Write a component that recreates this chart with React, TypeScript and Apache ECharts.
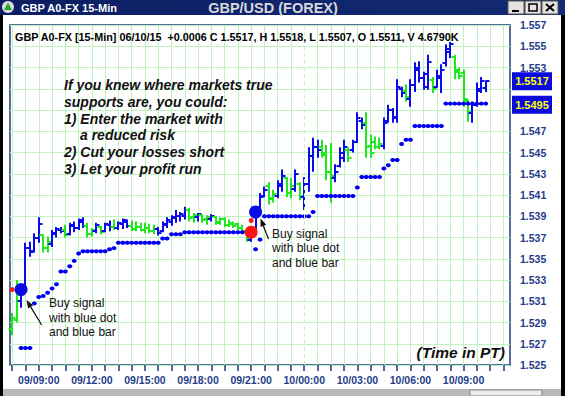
import React, { useEffect, useRef } from "react";
import * as echarts from "echarts";

const FONT = '"Liberation Sans", Arial, Helvetica, sans-serif';
const BLUE = "#0a0aee";
const GREEN = "#1fe81f";
const GRID_GREEN = "#bff2bf";
const NAVY = "#1a3c7c";
const LABEL_BLUE = "#1f3d8a";

// 15-minute slots on the time axis (index 6 = 09/09:00)
const SLOT_COUNT = 113;
const START_DAY = 9;
const START_MINUTE = 7 * 60 + 30;
const pad = (n: number) => String(n).padStart(2, "0");
const categories: string[] = [];
for (let k = 0; k < SLOT_COUNT; k++) {
  const t = START_MINUTE + k * 15;
  const day = START_DAY + Math.floor(t / 1440);
  const m = t % 1440;
  categories.push(`${pad(day)}/${pad(Math.floor(m / 60))}:${pad(m % 60)}`);
}
const tickLabels = ["09/09:00", "09/12:00", "09/15:00", "09/18:00", "09/21:00", "10/00:00", "10/03:00", "10/06:00", "10/09:00"];
// price labels hidden behind the price tags
const hiddenPriceLabels = ["1.551", "1.549"];

const opens = [
  1.5284, 1.5292, 1.5310, 1.5322, 1.5360, 1.5357, 1.5370, 1.5372, 1.5360, 1.5364,
  1.5373, 1.5377, 1.5377, 1.5373, 1.5381, 1.5379, 1.5385, 1.5381, 1.5373, 1.5376,
  1.5380, 1.5376, 1.5382, 1.5380, 1.5379, 1.5383, 1.5385, 1.5381, 1.5378, 1.5380,
  1.5377, 1.5379, 1.5376, 1.5378, 1.5376, 1.5382, 1.5385, 1.5388, 1.5390, 1.5390,
  1.5396, 1.5389, 1.5389, 1.5391, 1.5387, 1.5387, 1.5389, 1.5385, 1.5387, 1.5382,
  1.5383, 1.5383, 1.5379, 1.5376, 1.5368, 1.5374, 1.5392, 1.5409, 1.5418, 1.5407,
  1.5409, 1.5418, 1.5426, 1.5412, 1.5416, 1.5420, 1.5408, 1.5420, 1.5447, 1.5455,
  1.5455, 1.5450, 1.5432, 1.5426, 1.5437, 1.5445, 1.5452, 1.5452, 1.5460, 1.5480,
  1.5478, 1.5456, 1.5460, 1.5455, 1.5456, 1.5480, 1.5490, 1.5482, 1.5510, 1.5508,
  1.5500, 1.5514, 1.5528, 1.5520, 1.5512, 1.5518, 1.5512, 1.5520, 1.5534, 1.5545,
  1.5540, 1.5526, 1.5525, 1.5498, 1.5487, 1.5495, 1.5508, 1.5511,
];
const highs = [
  1.5299, 1.5330, 1.5323, 1.5365, 1.5366, 1.5374, 1.5389, 1.5373, 1.5371, 1.5377,
  1.5380, 1.5380, 1.5382, 1.5384, 1.5385, 1.5388, 1.5389, 1.5384, 1.5379, 1.5384,
  1.5381, 1.5384, 1.5386, 1.5387, 1.5385, 1.5388, 1.5387, 1.5386, 1.5385, 1.5384,
  1.5384, 1.5383, 1.5382, 1.5380, 1.5385, 1.5389, 1.5391, 1.5396, 1.5394, 1.5399,
  1.5398, 1.5393, 1.5393, 1.5392, 1.5391, 1.5392, 1.5390, 1.5389, 1.5389, 1.5387,
  1.5385, 1.5384, 1.5382, 1.5377, 1.5378, 1.5395, 1.5412, 1.5418, 1.5422, 1.5415,
  1.5424, 1.5434, 1.5427, 1.5426, 1.5434, 1.5422, 1.5427, 1.5455, 1.5464, 1.5462,
  1.5462, 1.5457, 1.5459, 1.5439, 1.5455, 1.5462, 1.5455, 1.5462, 1.5488, 1.5483,
  1.5488, 1.5467, 1.5465, 1.5464, 1.5483, 1.5495, 1.5492, 1.5519, 1.5512, 1.5514,
  1.5519, 1.5535, 1.5536, 1.5526, 1.5542, 1.5521, 1.5528, 1.5533, 1.5552, 1.5554,
  1.5542, 1.5530, 1.5528, 1.5500, 1.5498, 1.5516, 1.5521, 1.5518,
];
const lows = [
  1.5278, 1.5290, 1.5304, 1.5321, 1.5352, 1.5356, 1.5365, 1.5356, 1.5356, 1.5361,
  1.5370, 1.5374, 1.5370, 1.5372, 1.5375, 1.5377, 1.5379, 1.5370, 1.5371, 1.5374,
  1.5373, 1.5375, 1.5376, 1.5377, 1.5377, 1.5378, 1.5379, 1.5376, 1.5376, 1.5376,
  1.5374, 1.5374, 1.5373, 1.5372, 1.5375, 1.5379, 1.5381, 1.5384, 1.5385, 1.5387,
  1.5385, 1.5384, 1.5385, 1.5384, 1.5382, 1.5385, 1.5382, 1.5382, 1.5380, 1.5380,
  1.5379, 1.5377, 1.5374, 1.5366, 1.5366, 1.5372, 1.5391, 1.5408, 1.5401, 1.5403,
  1.5407, 1.5413, 1.5408, 1.5407, 1.5413, 1.5405, 1.5396, 1.5413, 1.5432, 1.5445,
  1.5445, 1.5424, 1.5403, 1.5422, 1.5436, 1.5441, 1.5441, 1.5450, 1.5459, 1.5472,
  1.5445, 1.5445, 1.5453, 1.5453, 1.5453, 1.5478, 1.5478, 1.5478, 1.5502, 1.5498,
  1.5493, 1.5507, 1.5516, 1.5509, 1.5509, 1.5506, 1.5511, 1.5506, 1.5531, 1.5539,
  1.5519, 1.5519, 1.5493, 1.5479, 1.5478, 1.5493, 1.5506, 1.5507,
];
const closes = [
  1.5294, 1.5318, 1.5320, 1.5360, 1.5356, 1.5370, 1.5383, 1.5360, 1.5366, 1.5374,
  1.5378, 1.5376, 1.5372, 1.5382, 1.5379, 1.5386, 1.5381, 1.5373, 1.5377, 1.5382,
  1.5375, 1.5383, 1.5380, 1.5379, 1.5384, 1.5386, 1.5381, 1.5378, 1.5380, 1.5377,
  1.5379, 1.5376, 1.5378, 1.5374, 1.5383, 1.5386, 1.5389, 1.5390, 1.5392, 1.5396,
  1.5388, 1.5391, 1.5392, 1.5386, 1.5389, 1.5390, 1.5384, 1.5387, 1.5382, 1.5384,
  1.5381, 1.5379, 1.5376, 1.5370, 1.5375, 1.5392, 1.5408, 1.5415, 1.5406, 1.5411,
  1.5420, 1.5428, 1.5412, 1.5418, 1.5430, 1.5409, 1.5420, 1.5447, 1.5455, 1.5452,
  1.5448, 1.5432, 1.5428, 1.5432, 1.5450, 1.5455, 1.5445, 1.5460, 1.5482, 1.5476,
  1.5455, 1.5450, 1.5455, 1.5458, 1.5478, 1.5490, 1.5483, 1.5512, 1.5506, 1.5502,
  1.5514, 1.5530, 1.5520, 1.5524, 1.5535, 1.5510, 1.5522, 1.5528, 1.5547, 1.5552,
  1.5528, 1.5522, 1.5500, 1.5488, 1.5495, 1.5510, 1.5517, 1.5517,
];
// b = blue bar, g = green bar
const barColors = (
  "ggbbbbbggb" + "bbgbbbbggb" + "gbbgbbbggg" + "gggbbbbbbb" + "ggbggbgggg" +
  "ggggbbbbgg" + "bbggbgbbbb" + "gggbbbgbbb" + "ggggbbbbbg" + "bbbbbgbbbb" +
  "ggggbbbb"
).split("");

// support dots [bar index, price]
const supportDots: [number, number][] = [
  [2, 1.5266], [3, 1.5266], [4, 1.5266], [5, 1.5308], [6, 1.5314], [7, 1.5315], [8, 1.5318],
  [9, 1.5322], [10, 1.5326], [11, 1.5338], [12, 1.5338], [13, 1.5343], [14, 1.5348], [15, 1.5355],
  [16, 1.5357], [17, 1.5357], [18, 1.5357], [19, 1.5357], [20, 1.5357], [21, 1.5357], [22, 1.5359],
  [23, 1.5360], [24, 1.5365], [25, 1.5365], [26, 1.5365], [27, 1.5365], [28, 1.5365], [29, 1.5365],
  [30, 1.5365], [31, 1.5365], [32, 1.5365], [33, 1.5365], [34, 1.5369], [35, 1.5369], [36, 1.5373],
  [37, 1.5373], [38, 1.5373], [39, 1.5375], [40, 1.5375], [41, 1.5375], [42, 1.5375], [43, 1.5375],
  [44, 1.5375], [45, 1.5375], [46, 1.5375], [47, 1.5375], [48, 1.5375], [49, 1.5375], [50, 1.5375],
  [51, 1.5375], [52, 1.5375], [53, 1.5375], [55, 1.5359], [56, 1.5368],
  [57, 1.5390], [58, 1.5390], [59, 1.5390], [60, 1.5390], [61, 1.5390], [62, 1.5390], [63, 1.5390],
  [64, 1.5390], [65, 1.5390], [66, 1.5390], [67, 1.5390], [68, 1.5394], [69, 1.5409], [70, 1.5409],
  [71, 1.5409], [72, 1.5409], [73, 1.5409], [74, 1.5409], [75, 1.5409], [76, 1.5409], [77, 1.5409],
  [78, 1.5417], [79, 1.5427], [80, 1.5427], [81, 1.5427], [82, 1.5427], [83, 1.5427], [84, 1.5435],
  [85, 1.5438], [86, 1.5443], [87, 1.5443], [88, 1.5458], [89, 1.5462], [90, 1.5462], [91, 1.5475],
  [92, 1.5475], [93, 1.5475], [94, 1.5475], [95, 1.5475], [96, 1.5475], [97, 1.5475], [98, 1.5496],
  [99, 1.5496], [100, 1.5496], [101, 1.5496], [102, 1.5496], [103, 1.5496], [104, 1.5496],
  [105, 1.5496], [106, 1.5496], [107, 1.5496],
];
const buySignals: [number, number][] = [[2, 1.5321], [55, 1.5394]];
const sellSignals: [number, number][] = [[54, 1.5375]];
const stopDots: [number, number][] = [[0, 1.5321], [54, 1.5386]];

const lastPrice = 1.5517;
const supportPrice = 1.5495;

const headerText = "GBP A0-FX [15-Min] 06/10/15  +0.0006 C 1.5517, H 1.5518, L 1.5507, O 1.5511, V 4.6790K";
const noteLines = [
  "If you knew where markets true",
  "supports are, you could:",
  "1) Enter the market with",
  "a reduced risk",
  "2) Cut your losses short",
  "3) Let your profit run",
];

function arrow(x1: number, y1: number, x2: number, y2: number) {
  const dx = x2 - x1, dy = y2 - y1;
  const len = Math.sqrt(dx * dx + dy * dy);
  const ux = dx / len, uy = dy / len;
  const hl = 8, hw = 3;
  const bx = x2 - ux * hl, by = y2 - uy * hl;
  return [
    { type: "line", z: 100, shape: { x1, y1, x2: bx, y2: by }, style: { stroke: "#111", lineWidth: 1.2 } },
    {
      type: "polygon", z: 100,
      shape: { points: [[x2, y2], [bx - uy * hw, by + ux * hw], [bx + uy * hw, by - ux * hw]] },
      style: { fill: "#111" },
    },
  ];
}

export default function App() {
  const ref = useRef<HTMLDivElement>(null);
  useEffect(() => {
    if (!ref.current) return;
    const chart = echarts.init(ref.current, undefined, { renderer: "svg" });
    const barData = opens.map((o, i) => [i, o, highs[i], lows[i], closes[i]]);
    chart.setOption({
      animation: false,
      backgroundColor: "#ffffff",
      textStyle: { fontFamily: FONT },
      grid: { left: 10, right: 55, top: 25, bottom: 31, show: true, borderColor: NAVY, borderWidth: 1.5, backgroundColor: "#ffffff" },
      xAxis: {
        type: "category",
        data: categories,
        boundaryGap: true,
        axisLine: { show: false },
        axisTick: { show: true, alignWithLabel: true, interval: (i: number) => i % 3 === 0, length: 6, lineStyle: { color: NAVY, width: 1.5 } },
        axisLabel: {
          interval: (_i: number, v: string) => tickLabels.includes(v),
          color: LABEL_BLUE, fontWeight: "bold", fontSize: 10.5, fontFamily: FONT, margin: 9,
        },
        splitLine: { show: true, alignWithLabel: true, interval: (i: number) => i % 3 === 0 && i !== 66, lineStyle: { color: GRID_GREEN, width: 1 } },
      },
      yAxis: {
        type: "value",
        position: "right",
        min: 1.525,
        max: 1.557,
        interval: 0.002,
        axisLine: { show: false },
        axisTick: { show: false },
        axisLabel: {
          formatter: (v: number) => (hiddenPriceLabels.includes(v.toFixed(3)) ? "" : v.toFixed(3)),
          color: LABEL_BLUE, fontWeight: "bold", fontSize: 10.5, fontFamily: FONT, margin: 10,
        },
        splitLine: { show: true, lineStyle: { color: GRID_GREEN, width: 1 } },
      },
      series: [
        {
          type: "custom",
          z: 2,
          encode: { x: 0, y: [1, 2, 3, 4] },
          data: barData,
          renderItem: (params: any, api: any) => {
            const idx = api.value(0);
            const p = api.coord([idx, api.value(1)]);
            const cx = Math.round(p[0]);
            const yO = Math.round(p[1]);
            const yH = api.coord([idx, api.value(2)])[1];
            const yL = api.coord([idx, api.value(3)])[1];
            const yC = Math.round(api.coord([idx, api.value(4)])[1]);
            const color = barColors[params.dataIndex] === "g" ? GREEN : BLUE;
            const st = { stroke: color, lineWidth: 2 };
            return {
              type: "group",
              children: [
                { type: "line", shape: { x1: cx, y1: yH, x2: cx, y2: yL }, style: st },
                { type: "line", shape: { x1: cx - 3.5, y1: yO, x2: cx, y2: yO }, style: st },
                { type: "line", shape: { x1: cx, y1: yC, x2: cx + 3.5, y2: yC }, style: st },
              ],
            };
          },
        },
        {
          type: "scatter",
          z: 3,
          symbol: "circle",
          symbolSize: [5, 4],
          itemStyle: { color: "#0000f0", opacity: 1 },
          data: supportDots,
          markLine: {
            silent: true,
            symbol: "none",
            label: { show: false },
            lineStyle: { type: [4, 3], color: "#c8f2c8", width: 1 },
            data: [{ xAxis: categories[66] }],
          },
        },
        { type: "scatter", z: 4, symbolSize: 5, itemStyle: { color: "#ff1a1a", opacity: 1 }, data: stopDots },
        { type: "scatter", z: 5, symbolSize: 13, itemStyle: { color: "#0b0be6", opacity: 1 }, data: buySignals },
        { type: "scatter", z: 5, symbolSize: 13, itemStyle: { color: "#ff1414", opacity: 1 }, data: sellSignals },
      ],
    });

    const yLast = chart.convertToPixel({ yAxisIndex: 0 }, lastPrice) as number;
    const ySup = chart.convertToPixel({ yAxisIndex: 0 }, supportPrice) as number;

    const priceBox = (y: number, value: number) => [
      { type: "rect", z: 100, shape: { x: 512, y: y - 9, width: 40, height: 18 }, style: { fill: "#0a0ae0" } },
      {
        type: "text", z: 101, x: 532, y: y,
        style: { text: value.toFixed(4), fill: "#ffff00", fontSize: 11, fontWeight: "bold", fontFamily: FONT, align: "center", verticalAlign: "middle" },
      },
    ];

    const graphic: any[] = [
      // title bar
      {
        type: "rect", z: 100, shape: { x: 0, y: 0, width: 565, height: 15 },
        style: { fill: new echarts.graphic.LinearGradient(0, 0, 1, 0, [{ offset: 0, color: "#0b1e62" }, { offset: 1, color: "#132a74" }]) },
      },
      { type: "circle", z: 101, shape: { cx: 8, cy: 7, r: 6 }, style: { fill: "#dcdcdc" } },
      { type: "polygon", z: 102, shape: { points: [[8, 2.5], [12, 10], [4, 10]] }, style: { fill: "#21a62a" } },
      {
        type: "text", z: 101, x: 21, y: 7.5,
        style: { text: "GBP A0-FX 15-Min", fill: "#ffffff", fontSize: 11, fontWeight: "bold", fontFamily: FONT, verticalAlign: "middle" },
      },
      {
        type: "text", z: 101, x: 273, y: 7.5,
        style: { text: "GBP/USD (FOREX)", fill: "#d8d8d8", fontSize: 14.5, fontWeight: "bold", fontFamily: FONT, align: "center", verticalAlign: "middle" },
      },
      // window buttons
      { type: "rect", z: 101, shape: { x: 508, y: 1, width: 16, height: 13 }, style: { fill: "#e4e2dc", stroke: "#555", lineWidth: 1 } },
      { type: "rect", z: 101, shape: { x: 525, y: 1, width: 16, height: 13 }, style: { fill: "#e4e2dc", stroke: "#555", lineWidth: 1 } },
      { type: "rect", z: 101, shape: { x: 542, y: 1, width: 16, height: 13 }, style: { fill: "#e4e2dc", stroke: "#555", lineWidth: 1 } },
      { type: "line", z: 102, shape: { x1: 512, y1: 11, x2: 519, y2: 11 }, style: { stroke: "#000", lineWidth: 2 } },
      { type: "rect", z: 102, shape: { x: 529, y: 4, width: 8, height: 7 }, style: { fill: "none", stroke: "#000", lineWidth: 1.5 } },
      { type: "line", z: 102, shape: { x1: 546, y1: 4, x2: 554, y2: 11 }, style: { stroke: "#000", lineWidth: 2 } },
      { type: "line", z: 102, shape: { x1: 554, y1: 4, x2: 546, y2: 11 }, style: { stroke: "#000", lineWidth: 2 } },
      // window frame
      { type: "rect", z: 100, shape: { x: 0, y: 15, width: 3, height: 381 }, style: { fill: "#000" } },
      { type: "rect", z: 100, shape: { x: 561, y: 15, width: 4, height: 381 }, style: { fill: "#000" } },
      { type: "rect", z: 100, shape: { x: 3, y: 389, width: 558, height: 7 }, style: { fill: "#b9b9b9" } },
      { type: "rect", z: 101, shape: { x: 470, y: 390, width: 72, height: 6 }, style: { fill: "#ececec", stroke: "#888", lineWidth: 1 } },
      // header
      {
        type: "text", z: 100, x: 15, y: 37,
        style: { text: headerText, fill: "#000", fontSize: 10.8, fontWeight: "bold", fontFamily: FONT, verticalAlign: "middle" },
      },
      // note text
      ...noteLines.map((t, k) => ({
        type: "text", z: 100, x: k === 3 ? 80 : 64, y: 85 + k * 16.8,
        style: { text: t, fill: "#111", fontSize: 14, fontWeight: "bold", fontStyle: "italic", fontFamily: FONT, verticalAlign: "middle" },
      })),
      {
        type: "text", z: 100, x: 49, y: 296,
        style: { text: "Buy signal\nwith blue dot\nand blue bar", fill: "#111", fontSize: 12, fontFamily: FONT, lineHeight: 14.4, verticalAlign: "top" },
      },
      {
        type: "text", z: 100, x: 272, y: 227,
        style: { text: "Buy signal\nwith blue dot\nand blue bar", fill: "#111", fontSize: 12, fontFamily: FONT, lineHeight: 14.2, verticalAlign: "top" },
      },
      ...arrow(41.7, 325, 26.5, 300),
      ...arrow(268.5, 239, 260.5, 218.5),
      {
        type: "text", z: 100, x: 505, y: 352,
        style: { text: "(Time in PT)", fill: "#111", fontSize: 15.5, fontWeight: "bold", fontStyle: "italic", fontFamily: FONT, align: "right", verticalAlign: "middle" },
      },
      ...priceBox(yLast, lastPrice),
      ...priceBox(ySup, supportPrice),
    ];
    chart.setOption({ graphic });

    return () => chart.dispose();
  }, []);
  return <div ref={ref} style={{ position: "fixed", left: 0, top: 0, width: 565, height: 396 }} />;
}
